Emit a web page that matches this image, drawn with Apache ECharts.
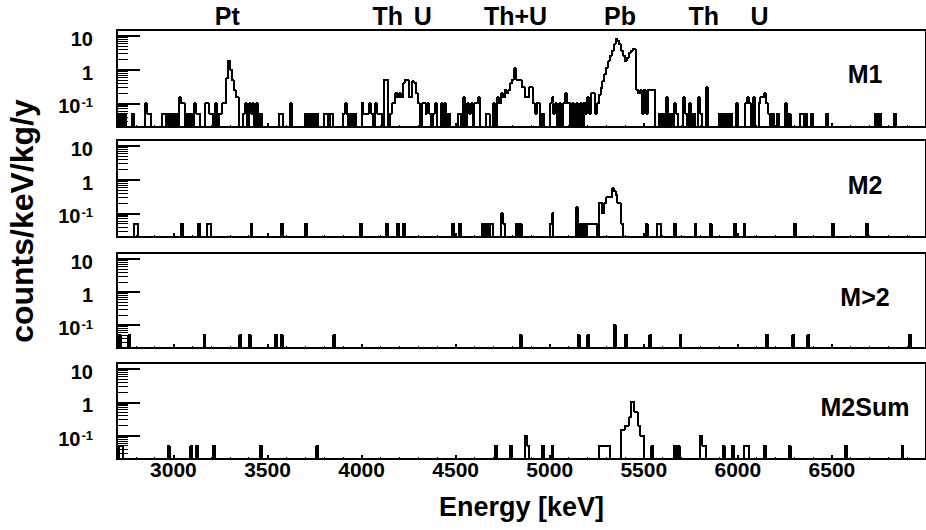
<!DOCTYPE html>
<html><head><meta charset="utf-8">
<script src="https://cdn.jsdelivr.net/npm/echarts@6/dist/echarts.min.js"></script>
<style>html,body{margin:0;padding:0;background:#fff}#c{width:926px;height:530px}#c svg path{shape-rendering:crispEdges}</style>
</head><body><div id="c"></div>
<script>
// ---------------- data ----------------
const binWidth = 10;           // keV
const xMin = 2700, xMax = 7000;
const yMin = 0.02, yMax = 15;
const xTickValues = [3000, 3500, 4000, 4500, 5000, 5500, 6000, 6500];
const yTickValues = [0.1, 1, 10];
const yMinorValues = [0.02,0.03,0.04,0.05,0.06,0.07,0.08,0.09,0.2,0.3,0.4,0.5,0.6,0.7,0.8,0.9,2,3,4,5,6,7,8,9];
const peakNames = ['Pt', 'Th', 'U', 'Th+U', 'Pb', 'Th', 'U'];
const peakEnergies = [3286, 4139, 4325, 4818, 5374, 5819, 6115];
const panelNames = ['M1', 'M2', 'M>2', 'M2Sum'];

// non-empty bins: [bin start (keV), counts/keV/kg/y]
const m1Bins = [
 [2700,0.05],[2720,0.05],[2740,0.05],[2780,0.05],[2850,0.1],[2860,0.05],[2870,0.05],[2940,0.05],[2950,0.05],
 [2970,0.05],[2990,0.05],[3010,0.05],[3030,0.15],[3040,0.1],[3050,0.1],[3070,0.05],[3090,0.05],[3110,0.1],[3120,0.05],[3130,0.05],
 [3170,0.1],[3180,0.1],[3190,0.05],[3200,0.05],[3220,0.1],[3240,0.05],[3250,0.05],[3260,0.1],[3270,0.1],
 [3280,0.55],[3290,1.85],[3300,1.0],[3310,0.5],[3320,0.25],[3330,0.15],[3340,0.15],
 [3370,0.05],[3380,0.1],[3400,0.1],[3410,0.05],[3420,0.1],[3440,0.1],[3460,0.05],
 [3560,0.05],[3570,0.05],[3620,0.1],[3700,0.05],[3720,0.05],[3740,0.05],[3760,0.05],[3800,0.05],[3810,0.05],
 [3830,0.05],[3840,0.05],[3900,0.05],[3910,0.1],[3920,0.05],[3940,0.05],[3960,0.05],[4000,0.1],[4010,0.05],
 [4020,0.05],[4030,0.05],[4040,0.1],[4050,0.05],[4070,0.1],[4080,0.05],[4090,0.05],[4100,0.05],[4120,0.5],[4130,0.5],
 [4150,0.05],[4160,0.1],[4170,0.1],[4180,0.2],[4190,0.15],[4200,0.2],[4210,0.15],[4220,0.4],[4230,0.5],[4240,0.5],
 [4250,0.15],[4260,0.15],[4270,0.45],[4280,0.4],[4290,0.2],[4300,0.1],[4320,0.1],[4330,0.1],[4340,0.05],[4350,0.1],
 [4360,0.05],[4380,0.05],[4390,0.1],[4420,0.1],[4440,0.1],[4460,0.05],[4510,0.05],[4520,0.05],
 [4540,0.15],[4560,0.1],[4570,0.05],[4580,0.1],[4600,0.1],[4610,0.1],[4620,0.15],[4660,0.05],[4670,0.05],[4700,0.1],
 [4720,0.15],[4730,0.1],[4740,0.2],[4750,0.15],[4760,0.25],[4770,0.2],[4780,0.25],[4790,0.4],[4800,0.5],[4810,1.1],
 [4820,0.5],[4830,0.5],[4840,0.5],[4850,0.3],[4860,0.3],[4870,0.15],[4880,0.15],[4890,0.3],[4900,0.3],[4910,0.1],
 [4920,0.05],[4930,0.1],[4940,0.1],[4960,0.05],[5000,0.1],[5010,0.15],[5020,0.05],[5030,0.1],[5050,0.1],
 [5070,0.1],[5080,0.2],[5090,0.1],[5100,0.1],[5120,0.1],[5140,0.1],[5160,0.1],
 [5180,0.1],[5190,0.05],[5200,0.15],[5210,0.05],[5220,0.2],[5230,0.2],[5240,0.05],[5250,0.1],
 [5260,0.18],[5270,0.29],[5280,0.46],[5290,0.73],[5300,1.15],[5310,1.8],[5320,2.55],[5330,3.6],[5340,5.6],[5350,7.9],
 [5360,7.0],[5370,5.6],[5380,3.6],[5390,2.55],[5400,1.8],[5410,2.27],[5420,3.2],[5430,3.7],[5440,4.0],[5450,4.0],
 [5460,0.25],[5470,0.2],[5480,0.25],[5490,0.05],[5500,0.25],[5510,0.05],[5520,0.25],[5530,0.25],[5540,0.25],[5550,0.25],
 [5580,0.05],[5600,0.05],[5620,0.15],[5640,0.05],[5660,0.1],[5670,0.05],[5710,0.15],[5720,0.05],[5740,0.1],[5760,0.05],
 [5790,0.15],[5800,0.05],[5830,0.3],[5900,0.05],[5920,0.05],[5940,0.05],[5960,0.05],[5990,0.1],
 [6040,0.1],[6050,0.15],[6060,0.1],[6080,0.15],[6110,0.1],[6120,0.15],[6130,0.15],[6140,0.2],[6150,0.1],[6160,0.05],
 [6180,0.05],[6210,0.05],[6250,0.1],[6270,0.05],[6330,0.05],[6340,0.05],[6360,0.05],[6390,0.05],[6470,0.05],
 [6730,0.05],[6750,0.05],[6830,0.05]
];
const m2Bins = [
 [2790,0.05],[2800,0.05],[3040,0.05],[3130,0.05],[3180,0.05],[3190,0.05],[3410,0.05],[3570,0.05],[3700,0.05],
 [3990,0.05],[4130,0.05],[4190,0.05],[4220,0.05],[4480,0.05],[4520,0.05],[4640,0.05],[4660,0.05],[4680,0.05],
 [4690,0.05],[4740,0.1],[4750,0.05],[4820,0.05],[4840,0.05],[5000,0.05],[5010,0.1],[5140,0.15],[5160,0.05],
 [5180,0.05],[5200,0.05],[5210,0.05],[5220,0.05],[5230,0.05],[5240,0.05],[5260,0.2],[5270,0.2],[5280,0.1],
 [5290,0.2],[5300,0.3],[5310,0.3],[5320,0.3],[5330,0.55],[5340,0.45],[5350,0.35],[5360,0.2],[5370,0.2],[5380,0.05],
 [5510,0.05],[5570,0.05],[5580,0.05],[5660,0.05],[5770,0.05],[5850,0.05],[5980,0.05],[6030,0.05],[6300,0.05],
 [6500,0.05],[6680,0.05]
];
const m3Bins = [
 [2710,0.05],[2760,0.05],[3160,0.05],[3350,0.05],[3400,0.05],[3540,0.05],[3570,0.05],[3850,0.05],[4840,0.05],
 [5150,0.05],[5200,0.05],[5340,0.1],[5400,0.05],[5530,0.05],[5690,0.05],[6150,0.05],[6290,0.05],[6370,0.05],[6910,0.05]
];
const m2SumBins = [
 [2710,0.05],[2720,0.05],[2970,0.05],[3090,0.05],[3120,0.05],[3210,0.05],[3460,0.05],[3760,0.05],[4710,0.05],
 [4790,0.05],[4870,0.1],[4880,0.05],[4960,0.05],[5010,0.05],[5260,0.05],[5270,0.05],[5280,0.05],[5290,0.05],
 [5300,0.05],[5310,0.05],[5380,0.15],[5390,0.15],[5400,0.2],[5410,0.2],[5420,0.35],[5430,1.0],[5440,1.0],
 [5450,0.5],[5460,0.5],[5470,0.2],[5480,0.1],[5490,0.1],[5540,0.05],[5660,0.05],[5680,0.05],[5800,0.1],
 [5810,0.05],[5820,0.05],[5920,0.05],[5970,0.05],[6030,0.05],[6040,0.05],[6050,0.05],[6140,0.05],[6270,0.05],
 [6570,0.05],[6870,0.05]
];
const panelBins = [m1Bins, m2Bins, m3Bins, m2SumBins];

// ---------------- layout ----------------
const FONT = '"Liberation Sans", Arial, Helvetica, sans-serif';
const tops = [30, 140, 253, 363];
const heights = [97, 97, 95, 96];
const emptyLevel = 1e-4; // below the axis floor: empty bins drop out of view

function stepPoints(bins) {
  const vals = {};
  bins.forEach(([e, v]) => { vals[e] = v; });
  const pts = [];
  for (let e = xMin; e < xMax; e += binWidth) {
    const v = vals[e] !== undefined ? vals[e] : emptyLevel;
    pts.push([e, v], [e + binWidth, v]);
  }
  return pts;
}
const xMinorValues = [];
for (let e = xMin; e <= xMax; e += 100) if (xTickValues.indexOf(e) < 0) xMinorValues.push(e);

const grids = [], xAxes = [], yAxes = [], series = [];
panelBins.forEach((bins, i) => {
  grids.push({left: 117, right: -3, top: tops[i], height: heights[i], show: true,
    borderColor: '#000', borderWidth: 2, backgroundColor: 'rgba(0,0,0,0)', containLabel: false});
  const xi = xAxes.length;
  xAxes.push({type: 'value', gridIndex: i, min: xMin, max: xMax, position: 'bottom',
    axisLine: {show: false, onZero: false}, splitLine: {show: false},
    axisTick: {show: true, inside: true, length: 4, customValues: xTickValues, lineStyle: {color: '#000', width: 1.5}},
    axisLabel: {show: i === 3, customValues: xTickValues, margin: 0, color: '#000', fontSize: 21,
      fontWeight: 'bold', fontFamily: FONT, formatter: v => String(v)},
    name: i === 3 ? 'Energy [keV]' : '', nameLocation: 'middle', nameGap: 34,
    nameTextStyle: {color: '#000', fontSize: 27, fontWeight: 'bold', fontFamily: FONT}});
  xAxes.push({type: 'value', gridIndex: i, min: xMin, max: xMax, position: 'bottom',
    axisLine: {show: false, onZero: false}, splitLine: {show: false},
    axisTick: {show: true, inside: true, length: 2, customValues: xMinorValues, lineStyle: {color: '#000', width: 1}},
    axisLabel: {show: false}});
  const yi = yAxes.length;
  yAxes.push({type: 'log', logBase: 10, gridIndex: i, min: yMin, max: yMax, position: 'left',
    axisLine: {show: false, onZero: false}, splitLine: {show: false},
    axisTick: {show: true, inside: true, length: 23, customValues: yTickValues, lineStyle: {color: '#000', width: 1.5}},
    axisLabel: {show: true, customValues: yTickValues, margin: 24, padding: [6, 0, 0, 0],
      formatter: v => v < 0.5 ? '{b|10}{s|-1}' : '{b|' + Math.round(v) + '}',
      rich: {
        b: {fontSize: 20, fontWeight: 'bold', fontFamily: FONT, color: '#000'},
        s: {fontSize: 13, fontWeight: 'bold', fontFamily: FONT, color: '#000', verticalAlign: 'top', padding: [0, 0, 0, 1]}
      }}});
  yAxes.push({type: 'log', logBase: 10, gridIndex: i, min: yMin, max: yMax, position: 'left',
    axisLine: {show: false, onZero: false}, splitLine: {show: false},
    axisTick: {show: true, inside: true, length: 11, customValues: yMinorValues, lineStyle: {color: '#000', width: 1.2}},
    axisLabel: {show: false}});
  series.push({type: 'line', xAxisIndex: xi, yAxisIndex: yi, data: stepPoints(bins),
    showSymbol: false, symbol: 'none', clip: true, silent: true, animation: false,
    lineStyle: {color: '#000', width: 2}});
});
// element labels on top of the first panel
xAxes.push({type: 'value', gridIndex: 0, min: xMin, max: xMax, position: 'top',
  axisLine: {show: false, onZero: false}, splitLine: {show: false}, axisTick: {show: false},
  axisLabel: {show: true, customValues: peakEnergies, margin: 2,
    formatter: v => peakNames[peakEnergies.indexOf(v)],
    color: '#000', fontSize: 25, fontWeight: 'bold', fontFamily: FONT}});

const graphics = [{type: 'text', x: 22, y: 221, rotation: Math.PI / 2,
  style: {text: 'counts/keV/kg/y', font: 'bold 32px ' + FONT, fill: '#000', textAlign: 'center', textVerticalAlign: 'middle'}}];
const nameY = [74, 185, 297, 407];
panelNames.forEach((n, i) => graphics.push({type: 'text', x: 865, y: nameY[i],
  style: {text: n, font: 'bold 25px ' + FONT, fill: '#000', textAlign: 'center', textVerticalAlign: 'middle'}}));

const chart = echarts.init(document.getElementById('c'), null, {renderer: 'svg'});
chart.setOption({
  animation: false,
  backgroundColor: '#fff',
  grid: grids, xAxis: xAxes, yAxis: yAxes, series: series,
  graphic: graphics
});
</script></body></html>
